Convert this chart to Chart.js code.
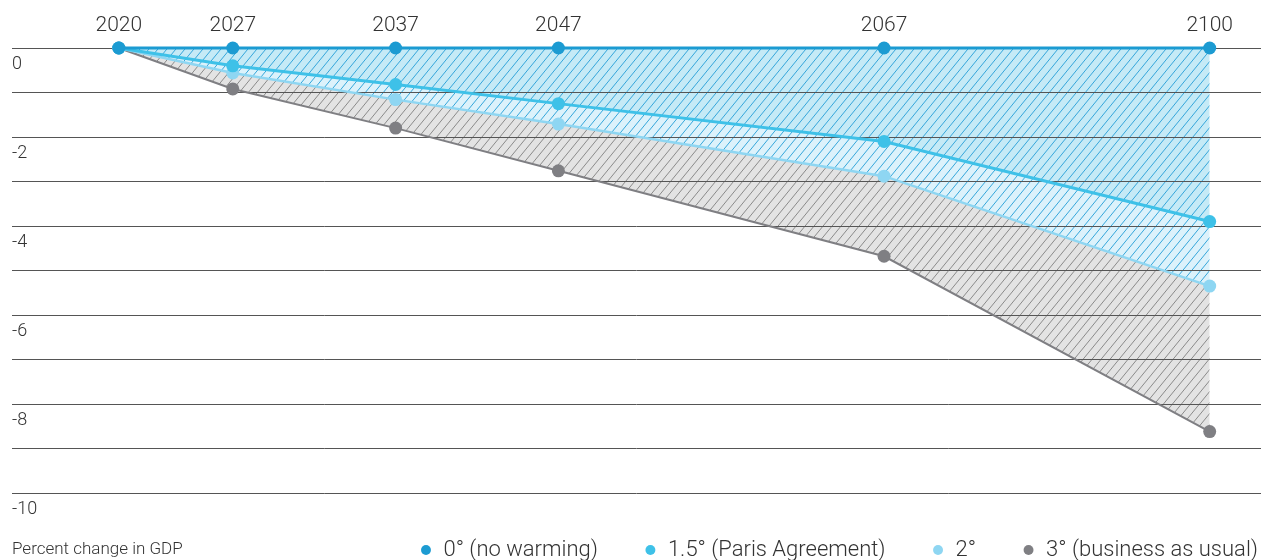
<!DOCTYPE html>
<html>
<head>
<meta charset="utf-8">
<script src="https://cdn.jsdelivr.net/npm/chart.js@4.4.1/dist/chart.umd.min.js"></script>
<style>
html,body{margin:0;padding:0;background:#fff;}
#wrap{width:1261px;height:560px;position:relative;}
</style>
</head>
<body>
<div id="wrap"><canvas id="gdpChart"></canvas></div>
<script>
// years on the top axis
const years=[2020,2027,2037,2047,2067,2100];
// percent change in GDP per warming scenario
const noWarming=[0,0,0,0,0,0];
const paris=[0,-0.4,-0.82,-1.25,-2.1,-3.9];
const twoDeg=[0,-0.56,-1.16,-1.71,-2.88,-5.35];
const threeDeg=[0,-0.92,-1.8,-2.76,-4.68,-8.62];
const yTicks=[0,-2,-4,-6,-8,-10];
const seriesNames=["0° (no warming)","1.5° (Paris Agreement)","2°","3° (business as usual)"];

const lineColors=["#1c9bd2","#3ec1e8","#8ed6f2","#7f7f83"];
const FONT="Roboto";

// linear year axis whose last stretch (after 2067) is compressed
class SqueezedScale extends Chart.LinearScale{
static id="squeezed";
static defaults=Chart.LinearScale.defaults;
squeeze(v){
const s=this.options.squeeze;
return v>s.from?s.from+(v-s.from)*s.factor:v;
}
configure(){
super.configure();
this._startValue=this.squeeze(this.min);
this._endValue=this.squeeze(this.max);
this._valueRange=this._endValue-this._startValue;
}
getPixelForValue(value){
if(value===null||value===undefined)return NaN;
return this.getPixelForDecimal((this.squeeze(value)-this._startValue)/this._valueRange);
}
}
Chart.register(SqueezedScale);

// diagonal hatch fill
function hatch(bg,line){
const w=9,h=11;
const c=document.createElement("canvas");
c.width=w;c.height=h;
const g=c.getContext("2d");
g.fillStyle=bg;
g.fillRect(0,0,w,h);
g.strokeStyle=line;
g.lineWidth=1;
g.beginPath();
for(const dx of [-w,0,w]){
g.moveTo(dx,h);
g.lineTo(dx+w,0);
}
g.stroke();
return g.createPattern(c,"repeat");
}

const pts=vals=>years.map((y,i)=>({x:y,y:vals[i]}));

function series(i,vals,fill,bg,width){
return{
label:seriesNames[i],
data:pts(vals),
borderColor:lineColors[i],
backgroundColor:bg||lineColors[i],
borderWidth:width,
pointRadius:6.5,
pointHoverRadius:6.5,
pointBorderWidth:0,
pointBackgroundColor:lineColors[i],
pointBorderColor:lineColors[i],
tension:0,
clip:false,
fill:fill
};
}

// caption next to the legend
const captionPlugin={
id:"caption",
afterDraw(chart){
const lg=chart.legend;
if(!lg||!lg.legendHitBoxes.length)return;
const hb=lg.legendHitBoxes[0];
const ctx=chart.ctx;
ctx.save();
ctx.font="300 17px "+FONT;
ctx.fillStyle="#333";
ctx.textBaseline="middle";
ctx.textAlign="left";
ctx.fillText("Percent change in GDP",12,hb.top+hb.height/2);
ctx.restore();
}
};

new Chart(document.getElementById("gdpChart"),{
type:"line",
data:{
datasets:[
series(0,noWarming,false,null,3),
// 0° sits on the zero line, so filling to origin fills up to it
series(1,paris,"origin",hatch("#c5eaf6","#35a6da"),3),
series(2,twoDeg,"-1",hatch("#dcf2fb","#35a6da"),2.5),
series(3,threeDeg,"-1",hatch("#e3e3e3","#8a8a8a"),2)
]
},
options:{
responsive:true,
maintainAspectRatio:false,
animation:false,
events:[],
layout:{autoPadding:false,padding:{left:12,right:-43,top:3.6,bottom:-11}},
scales:{
x:{
type:"squeezed",
position:"top",
min:2013.44,
max:2105.2,
squeeze:{from:2067,factor:20/33},
afterBuildTicks:s=>{s.ticks=years.map(v=>({value:v}));},
grid:{display:false,drawTicks:false},
border:{display:false},
ticks:{
autoSkip:false,
maxRotation:0,
padding:9.6,
color:"#333",
font:{family:FONT,size:21,weight:"300"},
callback:v=>String(v)
}
},
y:{
min:-10,
max:0,
afterBuildTicks:s=>{
const t=[];
for(let v=0;v>=-10;v--)t.push({value:v});
s.ticks=t;
},
grid:{color:"#555",lineWidth:1,drawTicks:false},
border:{display:false},
ticks:{
mirror:true,
padding:0,
labelOffset:16.5,
color:"#333",
font:{family:FONT,size:18,weight:"300"},
callback:v=>yTicks.includes(v)?String(v):""
}
}
},
plugins:{
filler:{drawTime:"beforeDraw"},
tooltip:{enabled:false},
legend:{
position:"bottom",
align:"end",
labels:{
usePointStyle:true,
pointStyle:"circle",
boxWidth:13,
boxHeight:7,
padding:46,
color:"#333",
font:{family:FONT,size:22,weight:"300"},
generateLabels:chart=>{
const items=Chart.defaults.plugins.legend.labels.generateLabels(chart);
items.forEach((it,i)=>{
it.fillStyle=lineColors[i];
it.strokeStyle=lineColors[i];
it.lineWidth=0;
});
return items;
}
}
}
}
},
plugins:[captionPlugin]
});
</script>
</body>
</html>
